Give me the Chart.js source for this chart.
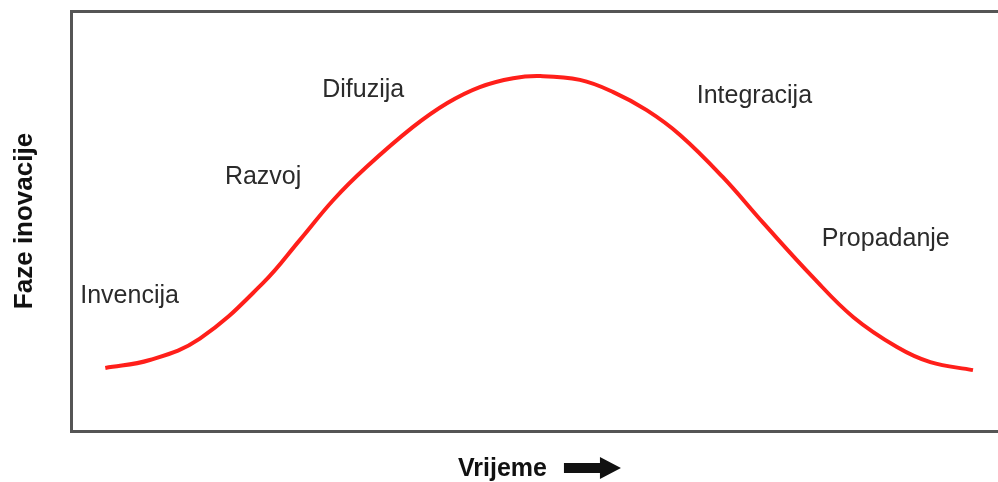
<!DOCTYPE html>
<html>
<head>
<meta charset="utf-8">
<script src="https://cdn.jsdelivr.net/npm/chart.js@4.4.0/dist/chart.umd.min.js"></script>
<style>
  body { margin: 0; background: #fff; }
  #wrap { width: 998px; height: 482px; }
</style>
</head>
<body>
<div id="wrap"><canvas id="lifeChart"></canvas></div>
<script>
// curve (time 0-100, level 0-100)
const timeValues = [3.7, 8.5, 13.9, 20.7, 24.7, 28.3, 31.9, 36.9, 40.6, 44.1, 47.7, 50.6, 54.9, 58.5, 62.1, 65.7, 70.3, 74.7, 80.0, 84.4, 89.1, 92.7, 97.3];
const levelValues = [15.0, 16.9, 22.0, 35.2, 45.5, 55.0, 62.9, 72.4, 78.1, 81.9, 84.0, 84.5, 83.6, 80.7, 76.4, 70.5, 60.5, 49.5, 36.7, 27.1, 20.0, 16.4, 14.5];

// phase labels and where they sit (left edge, baseline)
const phaseNames = ["Invencija", "Razvoj", "Difuzija", "Integracija", "Propadanje"];
const phaseTime = [1.0, 16.6, 27.1, 67.5, 81.0];
const phaseLevel = [30.5, 58.8, 79.5, 78.1, 44.0];

const xTitle = "Vrijeme";
const yTitle = "Faze inovacije";

const points = timeValues.map((t, i) => ({ x: t, y: levelValues[i] }));

const phaseLabels = {
  id: "phaseLabels",
  afterDraw(chart) {
    const ctx = chart.ctx;
    const xs = chart.scales.x;
    const ys = chart.scales.y;
    ctx.save();
    ctx.fillStyle = "#2b2b2b";
    ctx.font = "25px 'Liberation Sans', Arial, sans-serif";
    ctx.textBaseline = "alphabetic";
    ctx.textAlign = "left";
    phaseNames.forEach((name, i) => {
      ctx.fillText(name, xs.getPixelForValue(phaseTime[i]), ys.getPixelForValue(phaseLevel[i]));
    });

    // x title with the arrow after it
    ctx.fillStyle = "#111";
    ctx.font = "bold 25px 'Liberation Sans', Arial, sans-serif";
    const tx = 458, ty = 476;
    ctx.fillText(xTitle, tx, ty);
    const ax = tx + ctx.measureText(xTitle).width + 17;
    ctx.beginPath();
    ctx.moveTo(ax, 463);
    ctx.lineTo(ax + 36, 463);
    ctx.lineTo(ax + 36, 457);
    ctx.lineTo(ax + 57, 468);
    ctx.lineTo(ax + 36, 479);
    ctx.lineTo(ax + 36, 473);
    ctx.lineTo(ax, 473);
    ctx.closePath();
    ctx.fill();
    ctx.restore();
  }
};

new Chart(document.getElementById("lifeChart"), {
  type: "line",
  data: {
    datasets: [
      {
        data: points,
        borderColor: "#ff1f1a",
        borderWidth: 4,
        pointRadius: 0,
        tension: 0.4,
        fill: false,
      },
    ],
  },
  options: {
    responsive: true,
    maintainAspectRatio: false,
    animation: false,
    layout: { padding: { left: 0, top: 11, right: 0, bottom: 51 } },
    plugins: { legend: { display: false }, tooltip: { enabled: false } },
    scales: {
      x: {
        type: "linear",
        min: 0,
        max: 100,
        ticks: { display: false },
        grid: { display: false, drawTicks: false },
        border: { display: true, color: "#555", width: 3 },
      },
      x2: {
        type: "linear",
        position: "top",
        min: 0,
        max: 100,
        ticks: { display: false },
        grid: { display: false, drawTicks: false },
        border: { display: true, color: "#555", width: 3 },
      },
      y: {
        min: 0,
        max: 100,
        ticks: { display: false },
        grid: { display: false, drawTicks: false },
        border: { display: true, color: "#555", width: 3 },
        title: {
          display: true,
          text: yTitle,
          color: "#111",
          font: { family: "'Liberation Sans', Arial, sans-serif", size: 26, weight: "bold" },
          padding: { top: 9.4, bottom: 30.4 },
        },
      },
    },
  },
  plugins: [phaseLabels],
});
</script>
</body>
</html>
